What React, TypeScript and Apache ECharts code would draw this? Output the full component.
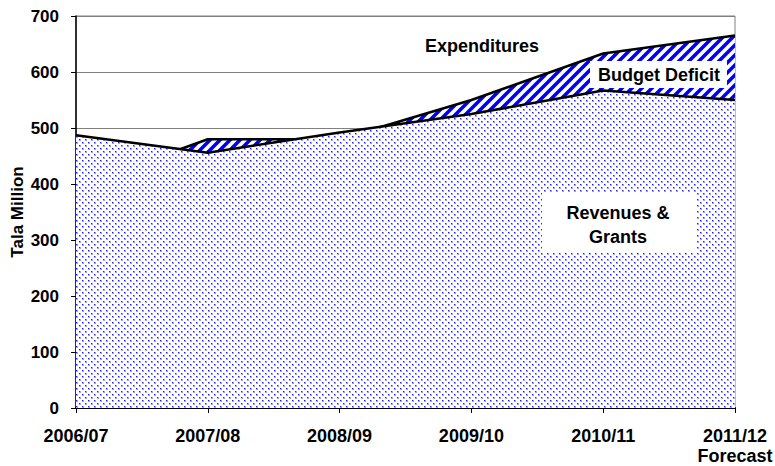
import React, { useEffect, useRef } from "react";
import * as echarts from "echarts";

const categories = ["2006/07", "2007/08", "2008/09", "2009/10", "2010/11", "2011/12\nForecast"];
const revenues = [487, 456, 492, 525, 567, 550];
const expenditures = [395, 480, 480, 550, 633, 665];
const yMin = 0;
const yMax = 700;
const yInterval = 100;

const FONT = "'Liberation Sans', Arial, sans-serif";

function hatchPattern() {
  const s = 10;
  const c = document.createElement("canvas");
  c.width = s;
  c.height = s;
  const g = c.getContext("2d")!;
  g.fillStyle = "#ffffff";
  g.fillRect(0, 0, s, s);
  g.strokeStyle = "#0000ff";
  g.lineWidth = s / Math.SQRT2 / 2;
  g.beginPath();
  for (const k of [-s, 0, s]) {
    g.moveTo(k - 3, s + 3);
    g.lineTo(k + s + 3, -3);
  }
  g.stroke();
  return { image: c, repeat: "repeat", imageWidth: s, imageHeight: s } as any;
}

function dotPattern() {
  const s = 6;
  const c = document.createElement("canvas");
  c.width = s;
  c.height = s;
  const g = c.getContext("2d")!;
  g.fillStyle = "#ffffff";
  g.fillRect(0, 0, s, s);
  g.fillStyle = "#a0a0ff";
  g.fillRect(1, 1, 2, 2);
  g.fillRect(4, 4, 2, 2);
  g.fillStyle = "#1c1cff";
  g.fillRect(1, 1, 1, 1);
  g.fillRect(4, 4, 1, 1);
  return { image: c, repeat: "repeat", imageWidth: s, imageHeight: s } as any;
}

export default function App() {
  const ref = useRef<HTMLDivElement>(null);
  useEffect(() => {
    if (!ref.current) return;
    const chart = echarts.init(ref.current, undefined, { renderer: "svg" });
    const txt = { fontFamily: FONT, fontWeight: "bold" as const, fontSize: 18, fill: "#000" };
    chart.setOption({
      animation: false,
      backgroundColor: "#ffffff",
      grid: {
        left: 76,
        right: 40,
        top: 16,
        bottom: 58,
        show: true,
        borderColor: "#808080",
        borderWidth: 1,
        containLabel: false,
        outerBoundsMode: "none",
      },
      xAxis: {
        type: "category",
        data: categories,
        boundaryGap: false,
        axisLine: { lineStyle: { color: "#000", width: 2 } },
        axisTick: { show: true, length: 5, lineStyle: { color: "#000" } },
        axisLabel: {
          interval: 0,
          margin: 18,
          color: "#000",
          fontFamily: FONT,
          fontWeight: "bold",
          fontSize: 18,
          lineHeight: 20,
          overflow: "none",
        },
        splitLine: { show: false },
      },
      yAxis: {
        type: "value",
        min: yMin,
        max: yMax,
        interval: yInterval,
        name: "Tala Million",
        nameLocation: "middle",
        nameGap: 50,
        nameMoveOverlap: false,
        nameTextStyle: { color: "#000", fontFamily: FONT, fontWeight: "bold", fontSize: 17 },
        axisLine: { show: true, lineStyle: { color: "#000", width: 1.5 } },
        axisTick: { show: true, length: 5, lineStyle: { color: "#000" } },
        axisLabel: { margin: 17, color: "#000", fontFamily: FONT, fontWeight: "bold", fontSize: 17 },
        splitLine: { show: true, lineStyle: { color: "#808080", width: 1 } },
      },
      series: [
        {
          name: "Expenditures",
          type: "line",
          data: expenditures,
          showSymbol: false,
          symbol: "none",
          lineStyle: { color: "#000", width: 2.5 },
          areaStyle: { color: hatchPattern(), opacity: 1 },
          z: 2,
        },
        {
          name: "Revenues & Grants",
          type: "line",
          data: revenues,
          showSymbol: false,
          symbol: "none",
          lineStyle: { color: "#000", width: 2.5 },
          areaStyle: { color: dotPattern(), opacity: 1 },
          z: 3,
        },
      ],
      graphic: [
        {
          type: "text",
          z: 100,
          x: 482,
          y: 46,
          style: { ...txt, text: "Expenditures", align: "center", verticalAlign: "middle" },
        },
        {
          type: "rect",
          z: 100,
          shape: { x: 590, y: 61, width: 137, height: 27 },
          style: { fill: "#ffffff" },
        },
        {
          type: "text",
          z: 101,
          x: 659,
          y: 75,
          style: { ...txt, text: "Budget Deficit", align: "center", verticalAlign: "middle" },
        },
        {
          type: "rect",
          z: 100,
          shape: { x: 542, y: 193, width: 155, height: 60 },
          style: { fill: "#ffffff" },
        },
        {
          type: "text",
          z: 101,
          x: 618,
          y: 225,
          style: {
            ...txt,
            text: "Revenues &\nGrants",
            align: "center",
            verticalAlign: "middle",
            lineHeight: 24,
          },
        },
      ],
    });
    return () => chart.dispose();
  }, []);
  return (
    <div
      ref={ref}
      style={{ position: "fixed", left: 0, top: 0, width: 775, height: 466 }}
    />
  );
}
